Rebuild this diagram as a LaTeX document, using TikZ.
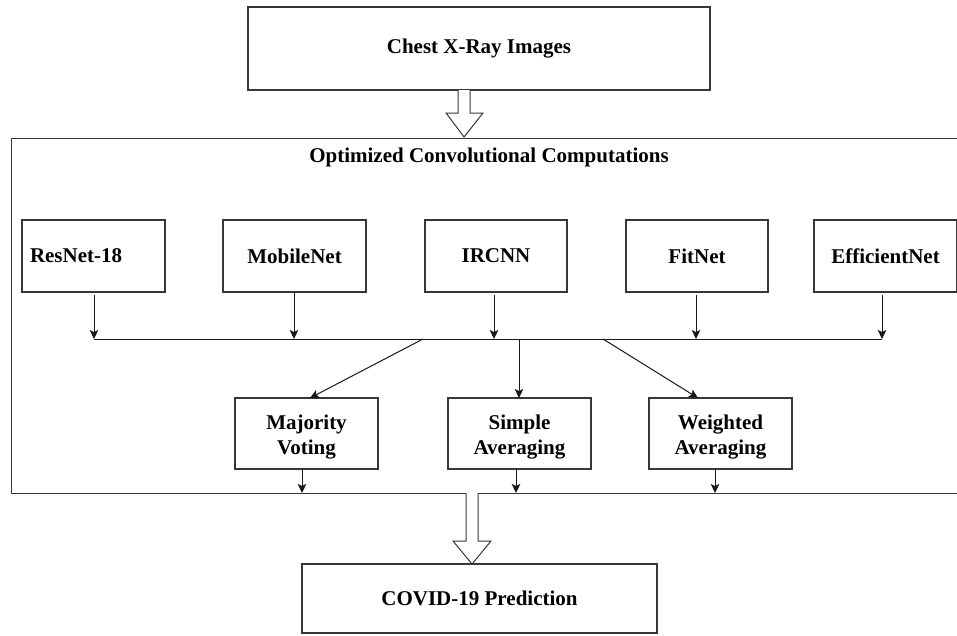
\documentclass[tikz,border=0pt]{standalone}
\usepackage{fontspec}
\setmainfont{Liberation Serif}
\usetikzlibrary{arrows.meta,calc}
\begin{document}
\begin{tikzpicture}[x=1pt,y=-1pt,
  box/.style={draw=black!78,line width=1.1pt,fill=white,rectangle,inner sep=0pt,
    font=\fontsize{21}{25}\selectfont\bfseries,align=center},
  lbl/.style={inner sep=0pt,font=\fontsize{21}{25}\selectfont\bfseries,align=center},
  conn/.style={draw=black!90,line width=1pt},
  arr/.style={conn,-{Stealth[length=9pt,width=8.5pt,inset=2pt]}},
  hollow/.style={draw=black!78,line width=1pt,fill=white,line join=miter}]
\clip (0,0) rectangle (957,635);
\fill[white] (0,0) rectangle (957,635);
% top box
\node[box,minimum width=462pt,minimum height=83pt] (top) at (479,48.5) {Chest X-Ray Images};
% container
\node[box,minimum width=960pt,minimum height=355pt,anchor=north west] (cont) at (11,138) {};
\node[lbl] (title) at (489,157) {Optimized Convolutional Computations};
% model boxes
\node[box,minimum width=143pt,minimum height=72pt,text width=127pt,align=left] (res) at (93.5,256) {ResNet-18};
\node[box,minimum width=143pt,minimum height=72pt] (mob) at (294.5,256) {MobileNet};
\node[box,minimum width=142pt,minimum height=72pt] (irc) at (496,256) {IRCNN};
\node[box,minimum width=142pt,minimum height=72pt] (fit) at (697,256) {FitNet};
\node[box,minimum width=143pt,minimum height=72pt] (eff) at (885.5,256) {EfficientNet};
% bus
\coordinate (busL) at (94,339);
\coordinate (busR) at (882,339);
\coordinate (s1) at (94,295);  \coordinate (e1) at (94,339);
\coordinate (s2) at (294,292); \coordinate (e2) at (294,339);
\coordinate (s3) at (494,295); \coordinate (e3) at (494,339);
\coordinate (s4) at (696,295); \coordinate (e4) at (696,339);
\coordinate (s5) at (882,295); \coordinate (e5) at (882,339);
\draw[conn] (busL) -- (busR);
\draw[arr] (s1) -- (e1);
\draw[arr] (s2) -- (e2);
\draw[arr] (s3) -- (e3);
\draw[arr] (s4) -- (e4);
\draw[arr] (s5) -- (e5);
% ensemble boxes
\node[box,minimum width=143pt,minimum height=71pt] (maj) at (306.5,433.5) {};
\node[box,minimum width=143pt,minimum height=71pt] (sav) at (519.5,433.5) {};
\node[box,minimum width=143pt,minimum height=71pt] (wav) at (720.5,433.5) {};
\node[lbl] (majl) at (306.5,437) {Majority\\Voting};
\node[lbl] (savl) at (519.5,437) {Simple\\Averaging};
\node[lbl] (wavl) at (720.5,437) {Weighted\\Averaging};
\coordinate (b1) at (423,339);
\coordinate (b2) at (519,339);
\coordinate (b3) at (603,339);
\coordinate (t1) at (310,398);
\coordinate (t2) at (519,398);
\coordinate (t3) at (698,398);
\draw[arr] (b1) -- (t1);
\draw[arr] (b2) -- (t2);
\draw[arr] (b3) -- (t3);
% outputs to container bottom
\coordinate (o1) at (302,469); \coordinate (f1) at (302,493);
\coordinate (o2) at (516,469); \coordinate (f2) at (516,493);
\coordinate (o3) at (715,469); \coordinate (f3) at (715,493);
\draw[arr] (o1) -- (f1);
\draw[arr] (o2) -- (f2);
\draw[arr] (o3) -- (f3);
% final box
\node[box,minimum width=355pt,minimum height=69pt] (out) at (479.5,598.5) {COVID-19 Prediction};
% hollow arrows
\draw[hollow] (458,90) -- (458,113) -- (446,113) -- (464,137) -- (483,113) -- (470,113) -- (470,90);
\draw[hollow] (466,493) -- (466,541) -- (453,541) -- (472,564) -- (491,541) -- (478,541) -- (478,493);
\end{tikzpicture}
\end{document}
